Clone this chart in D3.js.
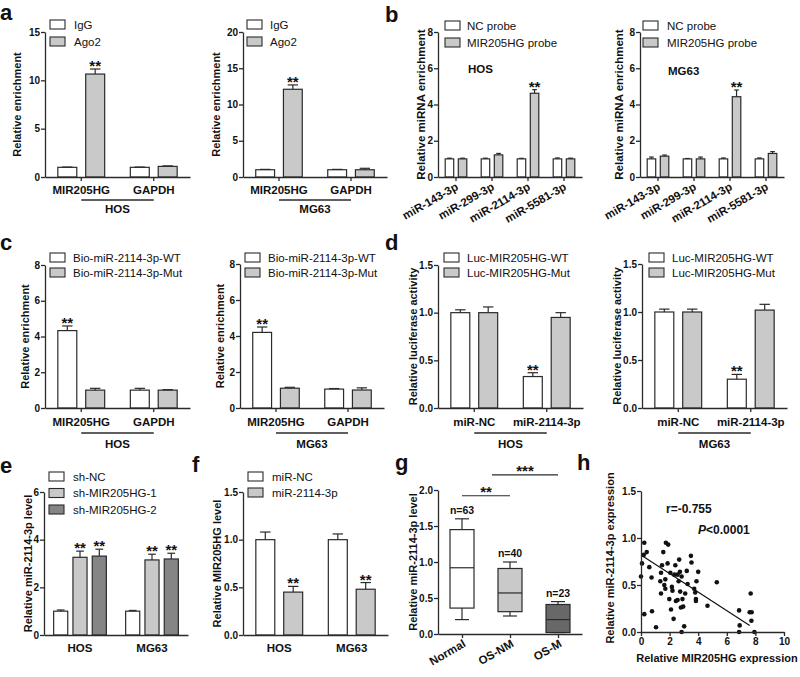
<!DOCTYPE html>
<html><head><meta charset="utf-8">
<script src="https://cdn.jsdelivr.net/npm/d3@7"></script>
<style>body{margin:0;background:#fff}svg{display:block}</style>
</head><body>
<svg id="chart" width="800" height="677"></svg>
<script>
// ---------------- DATA ----------------
// Panel a
const aGroups = ["MIR205HG", "GAPDH"];
const aSeriesNames = ["IgG", "Ago2"];
const aHOS_IgG = [1.0, 1.0];
const aHOS_IgG_err = [0.03, 0.03];
const aHOS_Ago2 = [10.65, 1.1];
const aHOS_Ago2_err = [0.52, 0.05];
const aHOS_Ago2_sig = ["**", ""];
const aMG63_IgG = [1.0, 1.0];
const aMG63_IgG_err = [0.05, 0.05];
const aMG63_Ago2 = [12.1, 1.0];
const aMG63_Ago2_err = [0.6, 0.2];
const aMG63_Ago2_sig = ["**", ""];
const aYTicksHOS = [0, 5, 10, 15];
const aYTicksMG63 = [0, 5, 10, 15, 20];

// Panel b
const bGroups = ["miR-143-3p", "miR-299-3p", "miR-2114-3p", "miR-5581-3p"];
const bSeriesNames = ["NC probe", "MIR205HG probe"];
const bHOS_NC = [1.0, 1.0, 1.0, 1.0];
const bHOS_NC_err = [0.04, 0.04, 0.03, 0.05];
const bHOS_Probe = [1.0, 1.22, 4.62, 1.0];
const bHOS_Probe_err = [0.04, 0.08, 0.2, 0.04];
const bHOS_Probe_sig = ["", "", "**", ""];
const bMG63_NC = [1.0, 1.0, 1.0, 1.0];
const bMG63_NC_err = [0.1, 0.02, 0.05, 0.05];
const bMG63_Probe = [1.15, 1.0, 4.43, 1.3];
const bMG63_Probe_err = [0.06, 0.1, 0.37, 0.1];
const bMG63_Probe_sig = ["", "", "**", ""];
const bYTicks = [0, 2, 4, 6, 8];

// Panel c
const cGroups = ["MIR205HG", "GAPDH"];
const cSeriesNames = ["Bio-miR-2114-3p-WT", "Bio-miR-2114-3p-Mut"];
const cHOS_WT = [4.33, 1.0];
const cHOS_WT_err = [0.26, 0.1];
const cHOS_WT_sig = ["**", ""];
const cHOS_Mut = [1.0, 1.0];
const cHOS_Mut_err = [0.1, 0.03];
const cMG63_WT = [4.2, 1.05];
const cMG63_WT_err = [0.3, 0.03];
const cMG63_WT_sig = ["**", ""];
const cMG63_Mut = [1.1, 1.0];
const cMG63_Mut_err = [0.05, 0.12];
const cYTicks = [0, 2, 4, 6, 8];

// Panel d
const dGroups = ["miR-NC", "miR-2114-3p"];
const dSeriesNames = ["Luc-MIR205HG-WT", "Luc-MIR205HG-Mut"];
const dHOS_WT = [1.0, 0.33];
const dHOS_WT_err = [0.03, 0.04];
const dHOS_WT_sig = ["", "**"];
const dHOS_Mut = [1.0, 0.95];
const dHOS_Mut_err = [0.06, 0.05];
const dMG63_WT = [1.0, 0.3];
const dMG63_WT_err = [0.03, 0.05];
const dMG63_WT_sig = ["", "**"];
const dMG63_Mut = [1.0, 1.02];
const dMG63_Mut_err = [0.03, 0.06];
const dYTicks = [0, 0.5, 1.0, 1.5];

// Panel e
const eGroups = ["HOS", "MG63"];
const eSeriesNames = ["sh-NC", "sh-MIR205HG-1", "sh-MIR205HG-2"];
const e_NC = [1.0, 1.0];
const e_NC_err = [0.05, 0.03];
const e_sh1 = [3.26, 3.15];
const e_sh1_err = [0.26, 0.24];
const e_sh2 = [3.31, 3.19];
const e_sh2_err = [0.29, 0.24];
const e_sig = ["**", "**"];
const eYTicks = [0, 2, 4, 6];

// Panel f
const fGroups = ["HOS", "MG63"];
const fSeriesNames = ["miR-NC", "miR-2114-3p"];
const f_NC = [1.0, 1.0];
const f_NC_err = [0.08, 0.06];
const f_2114 = [0.45, 0.48];
const f_2114_err = [0.06, 0.07];
const f_2114_sig = ["**", "**"];
const fYTicks = [0, 0.5, 1.0, 1.5];

// Panel g (box plot)
const gGroups = ["Normal", "OS-NM", "OS-M"];
const gMin = [0.2, 0.25, 0.02];
const gQ1 = [0.36, 0.31, 0.02];
const gMedian = [0.92, 0.57, 0.2];
const gQ3 = [1.45, 0.91, 0.41];
const gMax = [1.6, 1.0, 0.45];
const gN = ["n=63", "n=40", "n=23"];
const gSigLabels = ["**", "***"];
const gSigLevel = [1.92, 2.21];
const gYTicks = [0, 0.5, 1.0, 1.5, 2.0];

// Panel h (scatter)
const hX = [0, 0.07, 0.23, 0.19, 0.4, 0.23, 0.58, 0.74, 0.77, 1.05, 1.35, 1.4, 1.47, 1.56, 1.4, 1.63, 1.7, 1.7, 1.74, 1.9,
  1.86, 1.98, 2.05, 2.1, 2.16, 2.2, 2.28, 2.33, 2.4, 2.44, 2.56, 2.56, 2.63, 2.67, 2.72, 2.74, 2.79, 2.84, 2.9, 2.95,
  2.84, 3.02, 3.09, 3.2, 3.26, 3.49, 3.53, 3.72, 3.79, 3.84, 3.84, 3.88, 4.0, 4.65, 5.3, 6.86, 6.9, 6.86, 7.6, 7.74,
  7.67, 7.72, 7.93];
const hY = [0.59, 0.73, 0.95, 0.82, 0.85, 0.19, 0.69, 0.58, 0.22, 0.05, 0.54, 0.63, 0.71, 0.85, 0.41, 0.5, 0.56, 0.46, 0.95, 0.93,
  0.73, 0.35, 0.63, 0.24, 0.48, 0.44, 0.14, 0.61, 0.71, 0.33, 0.34, 0.61, 0.54, 0.77, 0.64, 0.43, 0.26, 0.0, 0.35, 0.27,
  0.59, 0.06, 0.41, 0.65, 0.51, 0.81, 0.74, 0.46, 0.42, 0.35, 0.33, 0.54, 0.64, 0.28, 0.53, 0.23, 0.07, 0.0, 0.21, 0.21,
  0.41, 0.12, 0.0];
const hLineX = [0, 7.6];
const hLineY = [0.82, 0.07];
const hXTicks = [0, 2, 4, 6, 8, 10];
const hYTicks = [0, 0.5, 1.0, 1.5];

// ---------------- STYLE ----------------
const FONT = '"Liberation Sans", Arial, Helvetica, sans-serif';
const AX = "#2a2a2a";
const WHITE = "#ffffff";
const GRAY = "#c9c9c9";
const MID = "#858585";
const BOXDARK = "#686868";
const TICKFS = 10;
const TITLEFS = 11;

const svg = d3.select("#chart").attr("font-family", FONT);
svg.append("rect").attr("width", 800).attr("height", 677).attr("fill", "#fff");

function styleAxis(sel, fs) {
  sel.attr("font-family", FONT);
  sel.select(".domain").attr("stroke", AX).attr("stroke-width", 1.3);
  sel.selectAll(".tick line").attr("stroke", AX).attr("stroke-width", 1.3);
  sel.selectAll(".tick text").attr("fill", "#111").attr("font-weight", "bold")
    .attr("font-size", fs).attr("font-family", FONT);
}

function txt(g, x, y, s, o = {}) {
  return g.append("text").attr("x", x).attr("y", y).text(s)
    .attr("font-family", FONT)
    .attr("font-size", o.size || 11.5)
    .attr("font-weight", o.weight || "bold")
    .attr("font-style", o.style || "normal")
    .attr("text-anchor", o.anchor || "start")
    .attr("fill", "#111");
}

function yTitle(g, x, y, s, size) {
  g.append("text").attr("transform", `translate(${x},${y}) rotate(-90)`)
    .attr("text-anchor", "middle").attr("font-size", size || TITLEFS).attr("font-weight", "bold")
    .attr("font-family", FONT).attr("fill", "#111").text(s);
}

function barPanel(o) {
  const g = svg.append("g");
  const y = d3.scaleLinear().domain([0, o.yMax]).range([o.yBot, o.yTop]);
  const x = d3.scaleBand().domain(o.groups).range([o.x0, o.x1]);
  const xi = d3.scaleBand().domain(d3.range(o.series.length)).range([0, x.bandwidth()])
    .paddingInner(o.pi).paddingOuter(o.po);
  const bw = xi.bandwidth();
  const recs = [];
  o.series.forEach((s, si) => o.groups.forEach((gr, gi) => recs.push({
    si, gi, v: s.values[gi], e: s.errs[gi], fill: s.fill,
    sig: s.sig ? s.sig[gi] : "", cx: x(gr) + xi(si) + bw / 2
  })));
  g.selectAll("rect.bar").data(recs).join("rect").attr("class", "bar")
    .attr("x", d => d.cx - bw / 2).attr("y", d => y(d.v))
    .attr("width", bw).attr("height", d => y(0) - y(d.v))
    .attr("fill", d => d.fill).attr("stroke", AX).attr("stroke-width", 1.2);
  const cap = bw * 0.55;
  g.selectAll("line.err").data(recs).join("line").attr("class", "err")
    .attr("x1", d => d.cx).attr("x2", d => d.cx)
    .attr("y1", d => y(d.v)).attr("y2", d => y(d.v + d.e))
    .attr("stroke", AX).attr("stroke-width", 1.2);
  g.selectAll("line.cap").data(recs).join("line").attr("class", "cap")
    .attr("x1", d => d.cx - cap / 2).attr("x2", d => d.cx + cap / 2)
    .attr("y1", d => y(d.v + d.e)).attr("y2", d => y(d.v + d.e))
    .attr("stroke", AX).attr("stroke-width", 1.2);
  g.selectAll("text.star").data(recs.filter(d => d.sig)).join("text").attr("class", "star")
    .attr("x", d => d.cx).attr("y", d => y(d.v + d.e) + 2)
    .attr("text-anchor", "middle").attr("font-size", 15).attr("font-weight", "bold")
    .attr("font-family", FONT).attr("fill", "#111").text(d => d.sig);

  // axes
  g.append("g").attr("transform", `translate(${o.x0},0)`)
    .call(d3.axisLeft(y).tickValues(o.yTicks).tickFormat(o.fmt).tickSize(4).tickSizeOuter(0).tickPadding(1))
    .call(styleAxis, TICKFS);
  const xa = g.append("g").attr("transform", `translate(0,${o.yBot})`)
    .call(d3.axisBottom(x).tickSize(o.xTick).tickSizeOuter(0).tickPadding(o.xPad))
    .call(styleAxis, 11.5);
  if (o.rotate) {
    xa.selectAll(".tick text").attr("text-anchor", "end").attr("y", 0).attr("dy", 0)
      .attr("transform", "translate(3,12) rotate(-30)");
  }
  if (o.sub) {
    const cx0 = x(o.groups[0]) + x.bandwidth() / 2;
    const cx1 = x(o.groups[o.groups.length - 1]) + x.bandwidth() / 2;
    g.append("line").attr("x1", cx0).attr("x2", cx1)
      .attr("y1", o.yBot + o.sub.line).attr("y2", o.yBot + o.sub.line)
      .attr("stroke", AX).attr("stroke-width", 1.3);
    txt(g, (cx0 + cx1) / 2, o.yBot + o.sub.text, o.sub.label, {anchor: "middle"});
  }
  // legend
  o.series.forEach((s, i) => {
    const ly = o.legend.y + i * o.legend.dy;
    g.append("rect").attr("x", o.legend.x).attr("y", ly).attr("width", 15).attr("height", 9)
      .attr("fill", s.fill).attr("stroke", AX).attr("stroke-width", 1.1);
    txt(g, o.legend.tx, ly + 8.5, s.name, {weight: "normal"});
  });
  yTitle(g, o.yTitleX, (o.yTop + o.yBot) / 2, o.yTitle, o.titleSize);
  return {g, x, y};
}

const fInt = d3.format("d");
const f1 = d3.format(".1f");

// ---- Panel a ----
barPanel({x0: 45, x1: 190, yTop: 32, yBot: 177, yMax: 15, yTicks: aYTicksHOS, fmt: fInt,
  groups: aGroups, pi: 0.32, po: 0.46, xTick: 4, xPad: 5,
  series: [
    {name: aSeriesNames[0], values: aHOS_IgG, errs: aHOS_IgG_err, fill: WHITE},
    {name: aSeriesNames[1], values: aHOS_Ago2, errs: aHOS_Ago2_err, fill: GRAY, sig: aHOS_Ago2_sig}],
  legend: {x: 50, y: 20, dy: 17, tx: 74}, yTitle: "Relative enrichment", yTitleX: 21,
  sub: {label: "HOS", line: 23, text: 36}});
barPanel({x0: 243, x1: 387, yTop: 32, yBot: 177, yMax: 20, yTicks: aYTicksMG63, fmt: fInt,
  groups: aGroups, pi: 0.32, po: 0.46, xTick: 4, xPad: 5,
  series: [
    {name: aSeriesNames[0], values: aMG63_IgG, errs: aMG63_IgG_err, fill: WHITE},
    {name: aSeriesNames[1], values: aMG63_Ago2, errs: aMG63_Ago2_err, fill: GRAY, sig: aMG63_Ago2_sig}],
  legend: {x: 247, y: 20, dy: 17, tx: 270}, yTitle: "Relative enrichment", yTitleX: 220,
  sub: {label: "MG63", line: 23, text: 36}});

// ---- Panel b ----
const pb1 = barPanel({x0: 438, x1: 582, yTop: 32, yBot: 177, yMax: 8, yTicks: bYTicks, fmt: fInt,
  groups: bGroups, pi: 0.35, po: 0.55, xTick: 4, xPad: 3, rotate: true,
  series: [
    {name: bSeriesNames[0], values: bHOS_NC, errs: bHOS_NC_err, fill: WHITE},
    {name: bSeriesNames[1], values: bHOS_Probe, errs: bHOS_Probe_err, fill: GRAY, sig: bHOS_Probe_sig}],
  legend: {x: 445, y: 21, dy: 17, tx: 467}, yTitle: "Relative miRNA enrichment", yTitleX: 425, titleSize: 11.5});
txt(pb1.g, 468, 73, "HOS", {size: 11.5});
const pb2 = barPanel({x0: 640, x1: 784, yTop: 32, yBot: 177, yMax: 8, yTicks: bYTicks, fmt: fInt,
  groups: bGroups, pi: 0.35, po: 0.55, xTick: 4, xPad: 3, rotate: true,
  series: [
    {name: bSeriesNames[0], values: bMG63_NC, errs: bMG63_NC_err, fill: WHITE},
    {name: bSeriesNames[1], values: bMG63_Probe, errs: bMG63_Probe_err, fill: GRAY, sig: bMG63_Probe_sig}],
  legend: {x: 643, y: 21, dy: 17, tx: 667}, yTitle: "Relative miRNA enrichment", yTitleX: 623, titleSize: 11.5});
txt(pb2.g, 668, 75, "MG63", {size: 11.5});

// ---- Panel c ----
barPanel({x0: 45, x1: 190, yTop: 265, yBot: 408, yMax: 8, yTicks: cYTicks, fmt: fInt,
  groups: cGroups, pi: 0.32, po: 0.46, xTick: 4, xPad: 6,
  series: [
    {name: cSeriesNames[0], values: cHOS_WT, errs: cHOS_WT_err, fill: WHITE, sig: cHOS_WT_sig},
    {name: cSeriesNames[1], values: cHOS_Mut, errs: cHOS_Mut_err, fill: GRAY}],
  legend: {x: 50, y: 253, dy: 15, tx: 73}, yTitle: "Relative enrichment", yTitleX: 29,
  sub: {label: "HOS", line: 25, text: 40}});
barPanel({x0: 240, x1: 384, yTop: 264, yBot: 408, yMax: 8, yTicks: cYTicks, fmt: fInt,
  groups: cGroups, pi: 0.32, po: 0.46, xTick: 4, xPad: 6,
  series: [
    {name: cSeriesNames[0], values: cMG63_WT, errs: cMG63_WT_err, fill: WHITE, sig: cMG63_WT_sig},
    {name: cSeriesNames[1], values: cMG63_Mut, errs: cMG63_Mut_err, fill: GRAY}],
  legend: {x: 245, y: 253, dy: 15, tx: 268}, yTitle: "Relative enrichment", yTitleX: 224,
  sub: {label: "MG63", line: 25, text: 40}});

// ---- Panel d ----
barPanel({x0: 438, x1: 583, yTop: 265, yBot: 408, yMax: 1.5, yTicks: dYTicks, fmt: f1,
  groups: dGroups, pi: 0.32, po: 0.46, xTick: 4, xPad: 6,
  series: [
    {name: dSeriesNames[0], values: dHOS_WT, errs: dHOS_WT_err, fill: WHITE, sig: dHOS_WT_sig},
    {name: dSeriesNames[1], values: dHOS_Mut, errs: dHOS_Mut_err, fill: GRAY}],
  legend: {x: 444, y: 253, dy: 15, tx: 467}, yTitle: "Relative luciferase activity", yTitleX: 417,
  sub: {label: "HOS", line: 25, text: 40}});
barPanel({x0: 642, x1: 787, yTop: 264, yBot: 408, yMax: 1.5, yTicks: dYTicks, fmt: f1,
  groups: dGroups, pi: 0.32, po: 0.46, xTick: 4, xPad: 6,
  series: [
    {name: dSeriesNames[0], values: dMG63_WT, errs: dMG63_WT_err, fill: WHITE, sig: dMG63_WT_sig},
    {name: dSeriesNames[1], values: dMG63_Mut, errs: dMG63_Mut_err, fill: GRAY}],
  legend: {x: 649, y: 253, dy: 15, tx: 672}, yTitle: "Relative luciferase activity", yTitleX: 621,
  sub: {label: "MG63", line: 25, text: 40}});

// ---- Panel e ----
barPanel({x0: 44, x1: 188, yTop: 492, yBot: 635, yMax: 6, yTicks: eYTicks, fmt: fInt,
  groups: eGroups, pi: 0.27, po: 0.5, xTick: 0, xPad: 9,
  series: [
    {name: eSeriesNames[0], values: e_NC, errs: e_NC_err, fill: WHITE},
    {name: eSeriesNames[1], values: e_sh1, errs: e_sh1_err, fill: GRAY, sig: e_sig},
    {name: eSeriesNames[2], values: e_sh2, errs: e_sh2_err, fill: MID, sig: e_sig}],
  legend: {x: 49, y: 472, dy: 16.5, tx: 73}, yTitle: "Relative miR-2114-3p level", yTitleX: 32});

// ---- Panel f ----
barPanel({x0: 243, x1: 388, yTop: 492, yBot: 635, yMax: 1.5, yTicks: fYTicks, fmt: f1,
  groups: fGroups, pi: 0.32, po: 0.46, xTick: 0, xPad: 9,
  series: [
    {name: fSeriesNames[0], values: f_NC, errs: f_NC_err, fill: WHITE},
    {name: fSeriesNames[1], values: f_2114, errs: f_2114_err, fill: GRAY, sig: f_2114_sig}],
  legend: {x: 248, y: 472, dy: 16, tx: 272}, yTitle: "Relative MIR205HG level", yTitleX: 221});

// ---- Panel g ----
(function () {
  const g = svg.append("g");
  const y = d3.scaleLinear().domain([0, 2]).range([634, 490]);
  const x = d3.scalePoint().domain(gGroups).range([438, 582]).padding(0.5);
  const bw = 24, cw = 14;
  const fills = [WHITE, GRAY, BOXDARK];
  const recs = gGroups.map((k, i) => ({k, i, min: gMin[i], q1: gQ1[i], med: gMedian[i], q3: gQ3[i], max: gMax[i], cx: x(k)}));
  recs.forEach(d => {
    [[d.q3, d.max], [d.min, d.q1]].forEach(([a, b]) => {
      g.append("line").attr("x1", d.cx).attr("x2", d.cx).attr("y1", y(a)).attr("y2", y(b))
        .attr("stroke", AX).attr("stroke-width", 1.2);
    });
    [d.max, d.min].forEach(v => {
      g.append("line").attr("x1", d.cx - cw / 2).attr("x2", d.cx + cw / 2).attr("y1", y(v)).attr("y2", y(v))
        .attr("stroke", AX).attr("stroke-width", 1.2);
    });
  });
  g.selectAll("rect.box").data(recs).join("rect")
    .attr("x", d => d.cx - bw / 2).attr("y", d => y(d.q3)).attr("width", bw)
    .attr("height", d => y(d.q1) - y(d.q3)).attr("fill", d => fills[d.i])
    .attr("stroke", AX).attr("stroke-width", 1.2);
  g.selectAll("line.med").data(recs).join("line")
    .attr("x1", d => d.cx - bw / 2).attr("x2", d => d.cx + bw / 2)
    .attr("y1", d => y(d.med)).attr("y2", d => y(d.med))
    .attr("stroke", AX).attr("stroke-width", 1.2);
  recs.forEach(d => txt(g, d.cx, y(d.max) - 5, gN[d.i], {anchor: "middle", size: 10.5}));
  g.append("g").attr("transform", "translate(438,0)")
    .call(d3.axisLeft(y).tickValues(gYTicks).tickFormat(f1).tickSize(4).tickSizeOuter(0).tickPadding(1))
    .call(styleAxis, TICKFS);
  const xa = g.append("g").attr("transform", "translate(0,634)")
    .call(d3.axisBottom(x).tickSize(4).tickSizeOuter(0))
    .call(styleAxis, 11.5);
  xa.selectAll(".tick text").attr("text-anchor", "end").attr("y", 0).attr("dy", 0)
    .attr("transform", "translate(4,12) rotate(-30)");
  const sig = [
    {x1: x(gGroups[0]), x2: x(gGroups[1]), lv: gSigLevel[0], lab: gSigLabels[0]},
    {x1: x(gGroups[1]) - 18, x2: x(gGroups[2]), lv: gSigLevel[1], lab: gSigLabels[1]}];
  sig.forEach(s => {
    g.append("line").attr("x1", s.x1).attr("x2", s.x2).attr("y1", y(s.lv)).attr("y2", y(s.lv))
      .attr("stroke", AX).attr("stroke-width", 1.2);
    txt(g, (s.x1 + s.x2) / 2, y(s.lv) + 1, s.lab, {anchor: "middle", size: 15});
  });
  yTitle(g, 417, 562, "Relative miR-2114-3p level");
})();

// ---- Panel h ----
(function () {
  const g = svg.append("g");
  const x = d3.scaleLinear().domain([0, 10]).range([641, 784]);
  const y = d3.scaleLinear().domain([0, 1.5]).range([632, 491]);
  g.selectAll("circle").data(hX.map((v, i) => [v, hY[i]])).join("circle")
    .attr("cx", d => x(d[0])).attr("cy", d => y(d[1])).attr("r", 2.3).attr("fill", "#111");
  g.append("path").datum(hLineX.map((v, i) => [v, hLineY[i]]))
    .attr("d", d3.line().x(d => x(d[0])).y(d => y(d[1])))
    .attr("stroke", "#111").attr("stroke-width", 1.2).attr("fill", "none");
  g.append("g").attr("transform", "translate(0,632)")
    .call(d3.axisBottom(x).tickValues(hXTicks).tickFormat(fInt).tickSize(4).tickSizeOuter(0).tickPadding(2))
    .call(styleAxis, TICKFS);
  g.append("g").attr("transform", "translate(641,0)")
    .call(d3.axisLeft(y).tickValues(hYTicks).tickFormat(f1).tickSize(4).tickSizeOuter(0).tickPadding(1))
    .call(styleAxis, TICKFS);
  txt(g, 666, 513, "r=-0.755", {size: 12});
  const p = txt(g, 698, 534, "", {size: 12});
  p.append("tspan").attr("font-style", "italic").text("P");
  p.append("tspan").text("<0.0001");
  txt(g, 717, 662, "Relative MIR205HG expression", {anchor: "middle", size: TITLEFS});
  yTitle(g, 614, 558, "Relative miR-2114-3p expression");
})();

// ---- Panel letters ----
const letters = [["a", 0, 20], ["b", 385, 22], ["c", 0, 250], ["d", 385, 250],
  ["e", 0, 473], ["f", 192, 472], ["g", 395, 470], ["h", 577, 470]];
letters.forEach(([l, lx, ly]) => txt(svg, lx, ly, l, {size: 22}));
</script>
</body></html>
